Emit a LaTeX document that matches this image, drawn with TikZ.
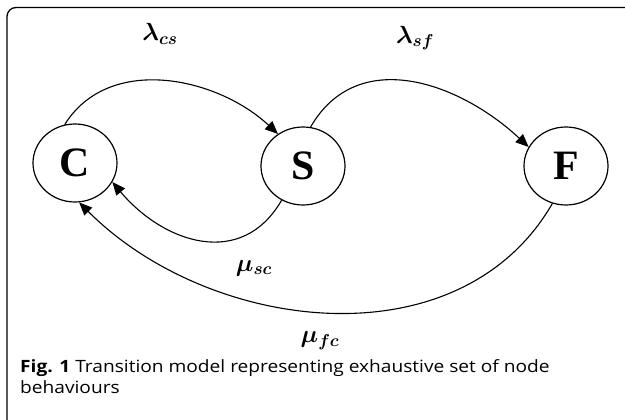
\documentclass[tikz,border=0pt]{standalone}
\usepackage{amsmath,bm}
\usepackage{fontspec}
\newfontfamily\statefont{Liberation Serif}
\newfontfamily\capfont{Open Sans}[FakeStretch=1.13]
\DeclareMathSizes{23}{23}{18}{14}
\usetikzlibrary{arrows.meta,shapes.geometric}
\tikzset{
  state/.style={draw,ellipse,line width=1.2bp,inner sep=0pt,
                minimum width=84bp,minimum height=78bp,
                font=\statefont\fontsize{42}{44}\selectfont\bfseries},
  arr/.style={-{Triangle[length=13bp,width=11bp]},line width=1.1bp},
  rate/.style={font=\fontsize{23}{26}\selectfont\boldmath},
  frame/.style={line width=1.3bp,rounded corners=9bp},
}

\begin{document}
\begin{tikzpicture}[x=1bp,y=1bp]
    \clip (0,0) rectangle (625,419);
    \draw[frame] (7,-20) rectangle (640,411.5);
    % states
    \node[state] (C) at (75,256) {C};
    \node[state] (S) at (303,253) {S};
    \node[state] (F) at (566,253) {F};
    % transitions
    \draw[arr] (C.105) to[out=58,in=137] (S.128);
    \draw[arr] (S.79) to[out=60,in=137,looseness=1.1] (F.153);
    \draw[arr] (S.238) to[out=240,in=-50,looseness=1.2] (C.333);
    \draw[arr] (F.250) to[out=-120,in=-45] (C.276);
    % rates
    \node[rate] (lcs) at (160,385) {$\lambda_{cs}$};
    \node[rate] (lsf) at (415,381) {$\lambda_{sf}$};
    \node[rate] (msc) at (254,151) {$\mu_{sc}$};
    \node[rate] (mfc) at (320,78) {$\mu_{fc}$};
    % caption
    \node[anchor=north west,inner sep=0pt,align=left,
          font=\capfont\fontsize{17}{21.5}\selectfont] (cap) at (20,60)
      {\textbf{Fig. 1} Transition model representing exhaustive set of node\\behaviours};
  \end{tikzpicture}
\end{document}
